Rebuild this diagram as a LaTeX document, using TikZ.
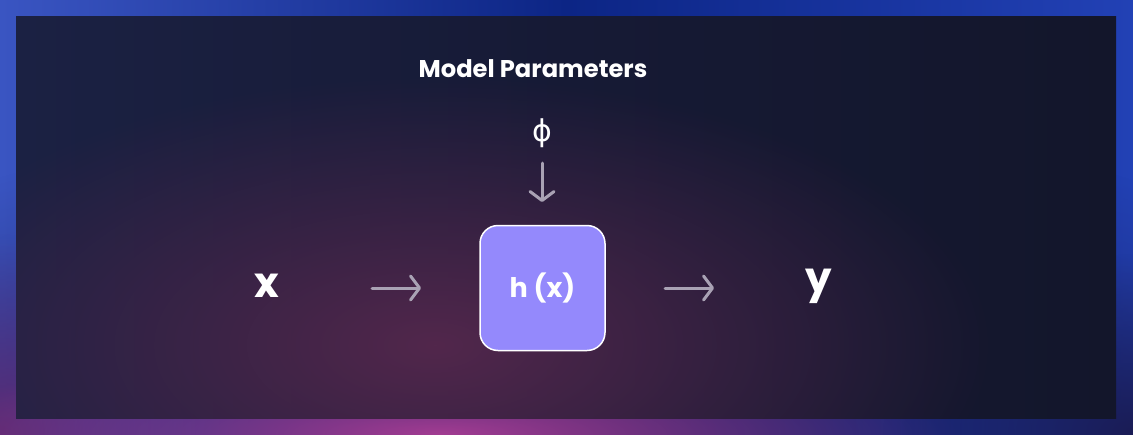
\documentclass[tikz,border=0pt]{standalone}
\usepackage{fontspec}
\setmainfont{Poppins}
\newfontfamily\symfont{DejaVu Sans}
\usetikzlibrary{arrows.meta,fadings}
\definecolor{panel}{HTML}{161A35}
\definecolor{panelL}{HTML}{1B2143}
\definecolor{panelR}{HTML}{13162B}
\definecolor{glow}{HTML}{52274C}
\definecolor{boxfill}{HTML}{9489FC}
\definecolor{arrowgray}{HTML}{A9A2B4}
\definecolor{frameL}{HTML}{3A55C2}
\definecolor{frameM}{HTML}{0C2585}
\definecolor{frameR}{HTML}{2241B5}
\definecolor{framedark}{HTML}{1A1C55}
\definecolor{magenta}{HTML}{A23C92}
\definecolor{purpleL}{HTML}{5A2A72}
\tikzfading[name=softglow, inner color=transparent!0, outer color=transparent!100]
\tikzset{
  lbl/.style={text=white, font=\bfseries, inner sep=0pt},
  conn/.style={draw=arrowgray, line width=3pt, line cap=round,
    -{Straight Barb[length=9pt,width=24pt,line cap=round,line join=round]}},
  fbox/.style={draw=white, line width=1.5pt, fill=boxfill, rounded corners=18pt,
    minimum width=125pt, minimum height=125pt, inner sep=0pt}
}
\begin{document}
\begin{tikzpicture}[x=1pt,y=-1pt]
\useasboundingbox (0,0) rectangle (1133,434);
% frame
\shade[left color=frameL, right color=frameR, middle color=frameM] (0,0) rectangle (1133,434);
\begin{scope}
\clip (0,0) rectangle (1133,434);
\fill[framedark, path fading=softglow, opacity=0.9] (566,434) ellipse (900 and 330);
\fill[purpleL, path fading=softglow] (0,434) ellipse (200 and 200);
\fill[magenta, path fading=softglow] (440,434) ellipse (520 and 90);
\fill[framedark, path fading=softglow] (1133,434) ellipse (250 and 180);
\end{scope}
% panel
\shade[left color=panelL, right color=panelR, middle color=panel] (16,16) rectangle (1116,418);
\begin{scope}
\clip (16,16) rectangle (1116,418);
\fill[glow, path fading=softglow] (435,345) ellipse (560 and 270);
\end{scope}
% nodes
\node[lbl, font=\bfseries\fontsize{24.2}{26}\selectfont] (mp) at (533,69) {Model Parameters};
\node[text=white, inner sep=0pt, font=\symfont\fontsize{30}{32}\selectfont] (phi) at (542,133) {ϕ};
\node[fbox] (h) at (542.5,288) {};
\node[lbl, font=\bfseries\fontsize{27}{29}\selectfont] (ht) at (542.5,288) {h (x)};
\node[lbl, font=\bfseries\fontsize{42}{44}\selectfont] (x) at (267,286) {x};
\node[lbl, font=\bfseries\fontsize{42}{44}\selectfont] (y) at (819,286) {y};
\coordinate (a1s) at (372,288); \coordinate (a1e) at (421,288);
\coordinate (a2s) at (665,288); \coordinate (a2e) at (714,288);
\coordinate (a3s) at (542,163); \coordinate (a3e) at (542,202);
\draw[conn] (a1s) -- (a1e);
\draw[conn] (a2s) -- (a2e);
\draw[conn] (a3s) -- (a3e);
\end{tikzpicture}
\end{document}
